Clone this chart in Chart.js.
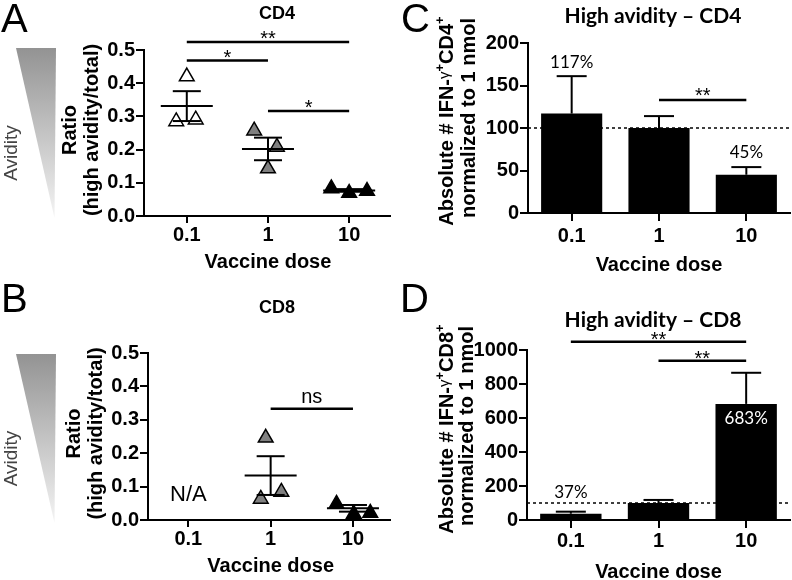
<!DOCTYPE html>
<html>
<head>
<meta charset="utf-8">
<title>Avidity vs vaccine dose</title>
<script src="https://cdn.jsdelivr.net/npm/chart.js@4.4.1/dist/chart.umd.min.js"></script>
<style>
    body { margin: 0; background: #fff; }
    #fig { position: relative; width: 792px; height: 580px; overflow: hidden; }
    #fig canvas { position: absolute; }
    .letter { position: absolute; font: 40px/40px "Liberation Sans", Arial, sans-serif; color: #000; }
</style>
</head>
<body>
<div id="fig">
    <canvas id="panelA" width="400" height="290" style="left:0;top:0"></canvas>
    <canvas id="panelB" width="400" height="290" style="left:0;top:290px"></canvas>
    <canvas id="panelC" width="392" height="290" style="left:400px;top:0"></canvas>
    <canvas id="panelD" width="392" height="290" style="left:400px;top:290px"></canvas>
    <div class="letter" style="left:1px;top:-2px">A</div>
    <div class="letter" style="left:1px;top:278px">B</div>
    <div class="letter" style="left:401px;top:-2px">C</div>
    <div class="letter" style="left:400px;top:278px">D</div>
</div>
<script>
'use strict';

var doses = ['0.1', '1', '10'];

// A - CD4, ratio high avidity / total, one value per mouse
var cd4Dose01 = [0.42, 0.285, 0.29];
var cd4Dose1 = [0.257, 0.208, 0.143];
var cd4Dose10 = [0.083, 0.069, 0.075];
var cd4Mean = [0.331, 0.202, 0.077];
var cd4Sem = [0.045, 0.034, 0.004];

// B - CD8, nothing measurable at 0.1
var cd8Dose01 = [];
var cd8Dose1 = [0.246, 0.063, 0.084];
var cd8Dose10 = [0.048, 0.018, 0.021];
var cd8Mean = [null, 0.133, 0.035];
var cd8Sem = [null, 0.058, 0.010];

// C, D - absolute # high avidity cells normalized to 1 nmol (%)
var cd4High = [117, 100, 45];
var cd4HighSem = [44, 14, 9];
var cd8High = [37, 100, 683];
var cd8HighSem = [12, 18, 183];

var SANS = '"Liberation Sans", Arial, Helvetica, sans-serif';
var CALI = 'Lato, "Open Sans", sans-serif';
var tickFont = { family: SANS, size: 20, weight: 'bold' };

function text(ctx, s, x, y, font, color, align, base) {
    ctx.save();
    ctx.font = font;
    ctx.fillStyle = color || '#000';
    ctx.textAlign = align || 'center';
    ctx.textBaseline = base || 'middle';
    ctx.fillText(s, x, y);
    ctx.restore();
}

// rotated (bottom-to-top) text made of runs, for superscripts
function rotatedRuns(ctx, runs, cx, cy) {
    ctx.save();
    ctx.translate(cx, cy);
    ctx.rotate(-Math.PI / 2);
    ctx.textBaseline = 'middle';
    ctx.textAlign = 'left';
    ctx.fillStyle = runs[0].color || '#000';
    var total = 0;
    runs.forEach(function (r) {
        ctx.font = r.font;
        r.w = ctx.measureText(r.text).width;
        total += r.w;
    });
    var pos = -total / 2;
    runs.forEach(function (r) {
        ctx.font = r.font;
        ctx.fillText(r.text, pos, r.rise || 0);
        pos += r.w;
    });
    ctx.restore();
}

function line(ctx, x1, y1, x2, y2, w, dash) {
    ctx.save();
    ctx.strokeStyle = '#000';
    ctx.lineWidth = w || 2;
    if (dash) ctx.setLineDash(dash);
    ctx.beginPath();
    ctx.moveTo(x1, y1);
    ctx.lineTo(x2, y2);
    ctx.stroke();
    ctx.restore();
}

function avidityWedge(ctx, x0, x1, top, bottom) {
    var g = ctx.createLinearGradient(0, top, 0, bottom);
    g.addColorStop(0, '#939393');
    g.addColorStop(1, '#f4f4f4');
    ctx.save();
    ctx.beginPath();
    ctx.moveTo(x0, top);
    ctx.lineTo(x1, top);
    ctx.lineTo(x1 - 1.5, bottom);
    ctx.closePath();
    ctx.fillStyle = g;
    ctx.fill();
    ctx.restore();
    rotatedRuns(ctx, [{ text: 'Avidity', font: '19px ' + SANS, color: '#444' }], 12, (top + bottom) / 2 + 20);
}

function brackets(ctx, xs, ys, list) {
    list.forEach(function (b) {
        var y = ys.getPixelForValue(b.y);
        var x1 = xs.getPixelForValue(b.from), x2 = xs.getPixelForValue(b.to);
        line(ctx, x1, y, x2, y, 2.5);
        text(ctx, b.label, (x1 + x2) / 2, y + b.dy, '20px ' + SANS, '#000', 'center', 'alphabetic');
    });
}

var axisBorder = { color: '#000', width: 2 };

function ratioChart(id, groups, means, sems, jitter, L) {
    var fills = ['#fff', '#808080', '#000'];
    var datasets = groups.map(function (vals, g) {
        return {
            data: vals.map(function (v, k) { return { x: g + jitter[g][k], y: v }; }),
            pointStyle: 'triangle',
            pointRadius: 8.5,
            borderWidth: 1.5,
            borderColor: '#000',
            backgroundColor: fills[g]
        };
    });

    var decor = {
        id: 'decor' + id,
        afterDraw: function (chart) {
            var ctx = chart.ctx, xs = chart.scales.x, ys = chart.scales.y, a = chart.chartArea;
            means.forEach(function (m, i) {
                if (m === null) return;
                var cx = xs.getPixelForValue(i);
                var my = ys.getPixelForValue(m);
                var hi = ys.getPixelForValue(m + sems[i]), lo = ys.getPixelForValue(m - sems[i]);
                line(ctx, cx - 26, my, cx + 26, my, 2);
                line(ctx, cx, hi, cx, lo, 2);
                line(ctx, cx - 14, hi, cx + 14, hi, 2);
                line(ctx, cx - 14, lo, cx + 14, lo, 2);
            });
            brackets(ctx, xs, ys, L.brackets);
            avidityWedge(ctx, 16, 56, L.wedgeTop, L.wedgeBottom);
            text(ctx, L.title, 277, L.titleY, 'bold 18px ' + SANS);
            var cy = (a.top + a.bottom) / 2 - 3;
            rotatedRuns(ctx, [{ text: 'Ratio', font: 'bold 20px ' + SANS }], a.left - 74, cy);
            rotatedRuns(ctx, [{ text: '(high avidity/total)', font: 'bold 20px ' + SANS }], a.left - 52, cy);
            text(ctx, 'Vaccine dose', (xs.getPixelForValue(0) + xs.getPixelForValue(2)) / 2, a.bottom + 46, 'bold 20px ' + SANS);
            if (L.na) {
                text(ctx, 'N/A', xs.getPixelForValue(0), ys.getPixelForValue(0.075), '22px ' + SANS);
            }
        }
    };

    return new Chart(document.getElementById(id), {
        type: 'scatter',
        data: { datasets: datasets },
        options: {
            responsive: false,
            animation: false,
            devicePixelRatio: 1,
            layout: { padding: L.pad },
            plugins: { legend: { display: false }, tooltip: { enabled: false } },
            scales: {
                x: {
                    type: 'linear',
                    min: L.xMin,
                    max: L.xMax,
                    afterBuildTicks: function (s) {
                        s.ticks = doses.map(function (d, i) { return { value: i }; });
                    },
                    ticks: {
                        callback: function (v) { return doses[v]; },
                        font: tickFont, color: '#000', padding: 0, maxRotation: 0, autoSkip: false
                    },
                    grid: { drawOnChartArea: false, color: '#000', lineWidth: 2, tickLength: 7 },
                    border: axisBorder,
                    afterFit: function (s) { s.height = L.xh; }
                },
                y: {
                    min: 0,
                    max: 0.5,
                    ticks: {
                        stepSize: 0.1,
                        callback: function (v) { return v.toFixed(1); },
                        font: tickFont, color: '#000', padding: 1
                    },
                    grid: { drawOnChartArea: false, color: '#000', lineWidth: 2, tickLength: 8 },
                    border: axisBorder,
                    afterFit: function (s) { s.width = L.yw; }
                }
            }
        },
        plugins: [decor]
    });
}

function barChart(id, values, errs, L) {
    var decor = {
        id: 'decor' + id,
        afterDraw: function (chart) {
            var ctx = chart.ctx, xs = chart.scales.x, ys = chart.scales.y, a = chart.chartArea;
            var ref = ys.getPixelForValue(100);
            line(ctx, a.left, ref, a.right, ref, 1.5, [3, 3]);
            values.forEach(function (v, i) {
                var cx = xs.getPixelForValue(i);
                var top = ys.getPixelForValue(v + errs[i]);
                line(ctx, cx, ys.getPixelForValue(v), cx, top, 2);
                line(ctx, cx - 15, top, cx + 15, top, 2);
            });
            L.pct.forEach(function (p) {
                var cx = xs.getPixelForValue(p.i);
                var v = values[p.i];
                var y = p.inside ? ys.getPixelForValue(v) + p.dy : ys.getPixelForValue(v + errs[p.i]) - p.dy;
                text(ctx, Math.round(v) + '%', cx, y, '17px ' + CALI, p.inside ? '#fff' : '#000');
            });
            brackets(ctx, xs, ys, L.brackets);
            text(ctx, L.title, 253, L.titleY, 'bold 21px ' + CALI);
            var b = 'bold 20px ' + SANS, sup = 'bold 13px ' + SANS;
            rotatedRuns(ctx, [
                { text: 'Absolute # IFN-', font: b },
                { text: '\u03b3', font: '15px ' + SANS, rise: -2 },
                { text: '+', font: sup, rise: -7 },
                { text: L.cell, font: b },
                { text: '+', font: sup, rise: -7 }
            ], 47, L.titleMid);
            rotatedRuns(ctx, [{ text: 'normalized to 1 nmol', font: b }], L.normX, L.titleMid - 3);
            text(ctx, 'Vaccine dose', xs.getPixelForValue(1), a.bottom + 52, 'bold 20px ' + SANS);
        }
    };

    return new Chart(document.getElementById(id), {
        type: 'bar',
        data: {
            labels: doses,
            datasets: [{ data: values, backgroundColor: '#000', barPercentage: 0.7, categoryPercentage: 1 }]
        },
        options: {
            responsive: false,
            animation: false,
            devicePixelRatio: 1,
            layout: { padding: L.pad },
            plugins: { legend: { display: false }, tooltip: { enabled: false } },
            scales: {
                x: {
                    offset: true,
                    ticks: { font: tickFont, color: '#000', padding: L.xPad, maxRotation: 0 },
                    grid: { drawOnChartArea: false, offset: false, color: '#000', lineWidth: 2, tickLength: 8 },
                    border: axisBorder,
                    afterFit: function (s) { s.height = L.xh; }
                },
                y: {
                    min: 0,
                    max: L.yMax,
                    ticks: {
                        stepSize: L.yStep,
                        callback: function (v) { return String(v); },
                        font: tickFont, color: '#000', padding: 1
                    },
                    grid: { drawOnChartArea: false, color: '#000', lineWidth: 2, tickLength: 8 },
                    border: axisBorder,
                    afterFit: function (s) { s.width = L.yw; }
                }
            }
        },
        plugins: [decor]
    });
}

ratioChart('panelA', [cd4Dose01, cd4Dose1, cd4Dose10], cd4Mean, cd4Sem,
    [[0, -0.13, 0.11], [-0.17, 0.11, 0], [-0.22, 0, 0.22]], {
        pad: { top: 50, right: 3, left: 0, bottom: 0 }, yw: 144, xh: 74,
        xMin: -0.527, xMax: 2.503,
        title: 'CD4', titleY: 14,
        wedgeTop: 48, wedgeBottom: 218,
        brackets: [
            { from: 0, to: 2, y: 0.524, label: '**', dy: 3 },
            { from: 0, to: 1, y: 0.468, label: '*', dy: 3 },
            { from: 1, to: 2, y: 0.316, label: '*', dy: 3 }
        ]
    });

ratioChart('panelB', [cd8Dose01, cd8Dose1, cd8Dose10], cd8Mean, cd8Sem,
    [[0, 0, 0], [-0.06, -0.12, 0.13], [-0.2, 0.01, 0.21]], {
        pad: { top: 63, right: 2, left: 0, bottom: 0 }, yw: 148, xh: 60,
        xMin: -0.49, xMax: 2.45,
        title: 'CD8', titleY: 18,
        wedgeTop: 64, wedgeBottom: 233, na: true,
        brackets: [
            { from: 1, to: 2, y: 0.333, label: 'ns', dy: -6 }
        ]
    });

barChart('panelC', cd4High, cd4HighSem, {
    pad: { top: 43, right: 2, left: 0, bottom: 0 }, yw: 128, xh: 77, xPad: 3,
    yMax: 200, yStep: 50, cell: 'CD4', titleMid: 121, normX: 69,
    title: 'High avidity \u2013 CD4', titleY: 16,
    pct: [{ i: 0, dy: 14 }, { i: 2, dy: 15 }],
    brackets: [{ from: 1, to: 2, y: 133, label: '**', dy: 2 }]
});

barChart('panelD', cd8High, cd8HighSem, {
    pad: { top: 60, right: 2, left: 0, bottom: 0 }, yw: 127, xh: 60, xPad: 1,
    yMax: 1000, yStep: 200, cell: 'CD8', titleMid: 139, normX: 67,
    title: 'High avidity \u2013 CD8', titleY: 30,
    pct: [{ i: 0, dy: 19 }, { i: 2, dy: 15, inside: true }],
    brackets: [
        { from: 0, to: 2, y: 1049, label: '**', dy: 4 },
        { from: 1, to: 2, y: 937, label: '**', dy: 4 }
    ]
});
</script>
</body>
</html>
